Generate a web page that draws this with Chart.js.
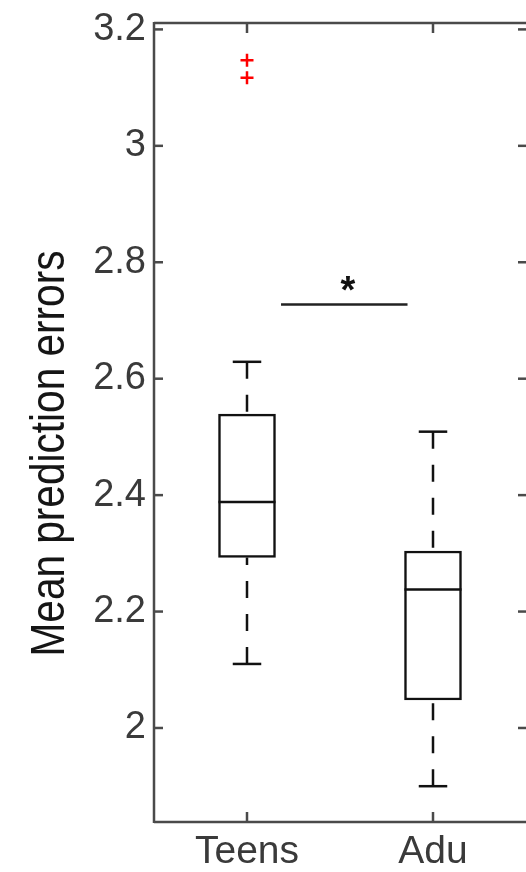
<!DOCTYPE html>
<html>
<head>
<meta charset="utf-8">
<script src="https://cdn.jsdelivr.net/npm/chart.js@4.4.1/dist/chart.umd.min.js"></script>
<style>
html,body{margin:0;padding:0;background:#ffffff;}
canvas{display:block;}
</style>
</head>
<body>
<canvas id="c" width="526" height="872"></canvas>
<script>
// ---- data ----
const categories = ['Teens', 'Adu'];
const lowerWhisker = [2.11, 1.90];
const quartile1 = [2.293, 2.048];
const medians = [2.388, 2.238];
const quartile3 = [2.539, 2.304];
const upperWhisker = [2.629, 2.509];
const outlierGroup = ['Teens', 'Teens'];
const outlierValues = [3.147, 3.117];
const yTickValues = [2, 2.2, 2.4, 2.6, 2.8, 3, 3.2];
const yMin = 1.8385;
const yMax = 3.211;
const yTitle = 'Mean prediction errors';
const sigLabel = '*';
const sigValue = 2.7275;
const sigFrom = 0.183;   // in category-index units
const sigTo = 0.863;
const sigStarAt = 0.543;
const sigStarValue = 2.764;

const FONT = "'Liberation Sans', Arial, Helvetica, sans-serif";

const boxplotExtras = {
  id: 'boxplotExtras',
  afterDraw(chart) {
    const {ctx, chartArea: a, scales: {x, y}} = chart;
    const bars = chart.getDatasetMeta(0).data;
    const seg = (x1, y1, x2, y2) => { ctx.beginPath(); ctx.moveTo(x1, y1); ctx.lineTo(x2, y2); ctx.stroke(); };
    ctx.save();
    ctx.lineCap = 'butt';
    ctx.strokeStyle = '#111111';
    ctx.lineWidth = 2.5;
    categories.forEach((c, i) => {
      const cx = x.getPixelForValue(i);
      const w = bars[i].width;
      const ym = y.getPixelForValue(medians[i]);
      seg(cx - w / 2, ym, cx + w / 2, ym);
      const yu = y.getPixelForValue(upperWhisker[i]);
      const yl = y.getPixelForValue(lowerWhisker[i]);
      ctx.setLineDash([17, 16]);
      seg(cx, yu, cx, y.getPixelForValue(quartile3[i]));
      seg(cx, yl, cx, y.getPixelForValue(quartile1[i]));
      ctx.setLineDash([]);
      const cap = w / 4;
      seg(cx - cap, yu, cx + cap, yu);
      seg(cx - cap, yl, cx + cap, yl);
    });
    // significance bar
    const px = v => x.getPixelForValue(0) + v * (x.getPixelForValue(1) - x.getPixelForValue(0));
    ctx.strokeStyle = '#222222';
    const ys = y.getPixelForValue(sigValue);
    seg(px(sigFrom), ys, px(sigTo), ys);
    ctx.font = 'bold 38px ' + FONT;
    ctx.fillStyle = '#111111';
    ctx.textAlign = 'center';
    ctx.textBaseline = 'alphabetic';
    const m = ctx.measureText(sigLabel);
    const starY = y.getPixelForValue(sigStarValue) + (m.actualBoundingBoxAscent - m.actualBoundingBoxDescent) / 2;
    ctx.fillText(sigLabel, px(sigStarAt), starY);

    // axes frame with inward ticks
    ctx.strokeStyle = '#4a4a4a';
    ctx.lineWidth = 2.5;
    ctx.beginPath();
    ctx.moveTo(a.left, a.top); ctx.lineTo(a.right + 2, a.top);
    ctx.moveTo(a.left, a.bottom); ctx.lineTo(a.right + 2, a.bottom);
    ctx.moveTo(a.left, a.top - 1); ctx.lineTo(a.left, a.bottom + 1);
    ctx.moveTo(a.right + 1.5, a.top - 1); ctx.lineTo(a.right + 1.5, a.bottom + 1);
    ctx.stroke();
    y.ticks.forEach(t => {
      const ty = y.getPixelForValue(t.value);
      seg(a.left, ty, a.left + 9, ty);
      seg(a.right - 8, ty, a.right + 1, ty);
    });
    categories.forEach((c, i) => {
      const tx = x.getPixelForValue(i);
      seg(tx, a.bottom, tx, a.bottom - 10);
      seg(tx, a.top, tx, a.top + 10);
    });

    // y-axis title
    ctx.save();
    ctx.translate(64, (a.top + a.bottom) / 2 + 31);
    ctx.rotate(-Math.PI / 2);
    ctx.font = '48px ' + FONT;
    ctx.fillStyle = '#151515';
    ctx.textAlign = 'center';
    ctx.textBaseline = 'alphabetic';
    ctx.fillText(yTitle, 0, 0, 406);
    ctx.restore();
    ctx.restore();
  }
};

new Chart(document.getElementById('c'), {
  type: 'bar',
  data: {
    labels: categories,
    datasets: [
      {
        type: 'bar',
        data: categories.map((c, i) => [quartile1[i], quartile3[i]]),
        backgroundColor: '#ffffff',
        borderColor: '#111111',
        borderWidth: 2.5,
        borderSkipped: false,
        barThickness: 57
      },
      {
        type: 'line',
        data: outlierValues.map((v, i) => ({x: outlierGroup[i], y: v})),
        showLine: false,
        pointStyle: 'cross',
        pointRadius: 6.5,
        pointBorderColor: '#ff0000',
        pointBorderWidth: 2.5,
        borderColor: '#ff0000'
      }
    ]
  },
  options: {
    responsive: false,
    animation: false,
    layout: {autoPadding: false, padding: {top: 23, left: 0, right: 0, bottom: 0}},
    plugins: {legend: {display: false}, tooltip: {enabled: false}},
    scales: {
      x: {
        offset: true,
        grid: {display: false, drawTicks: false},
        border: {display: false},
        ticks: {color: '#3a3a3a', font: {family: FONT, size: 39}, padding: 7, maxRotation: 0, autoSkip: false},
        afterFit: s => { s.height = 50; s.paddingLeft = 0; s.paddingRight = 0; }
      },
      y: {
        min: yMin,
        max: yMax,
        grid: {display: false, drawTicks: false},
        border: {display: false},
        afterBuildTicks: s => { s.ticks = yTickValues.map(v => ({value: v})); },
        ticks: {color: '#3a3a3a', font: {family: FONT, size: 38}, padding: 8, callback: v => String(v)},
        afterFit: s => { s.width = 154; s.paddingTop = 0; s.paddingBottom = 0; }
      }
    }
  },
  plugins: [boxplotExtras]
});
</script>
</body>
</html>
